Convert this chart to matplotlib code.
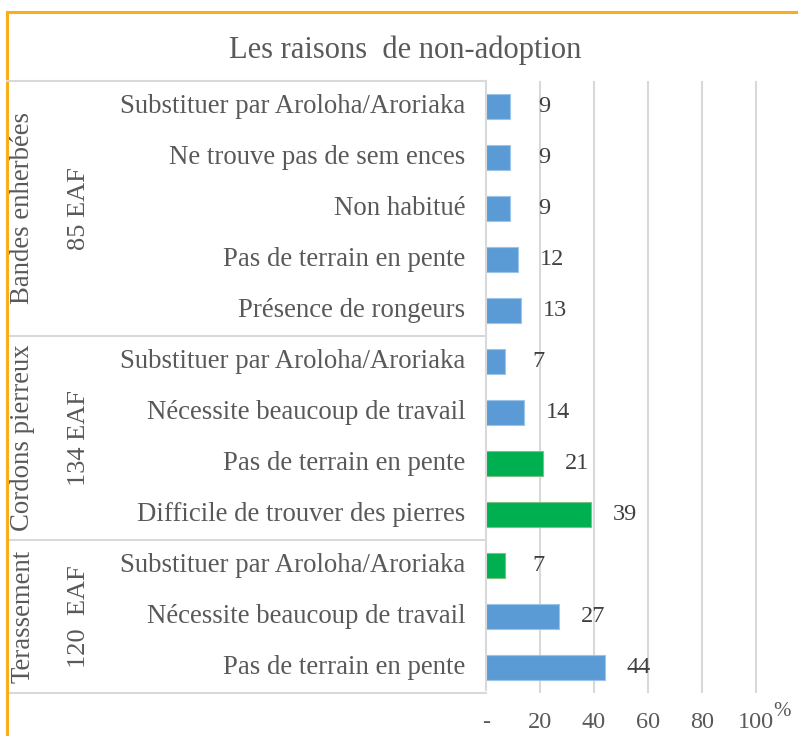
import matplotlib
matplotlib.use('Agg')
import matplotlib.pyplot as plt
from matplotlib.lines import Line2D
from matplotlib.patches import Rectangle
from matplotlib.transforms import blended_transform_factory

plt.rcParams['font.family'] = ['Liberation Serif', 'DejaVu Serif']

# raisons, de haut en bas
raisons = [
    'Substituer par Aroloha/Aroriaka',
    'Ne trouve pas de sem ences',
    'Non habitué',
    'Pas de terrain en pente',
    'Présence de rongeurs',
    'Substituer par Aroloha/Aroriaka',
    'Nécessite beaucoup de travail',
    'Pas de terrain en pente',
    'Difficile de trouver des pierres',
    'Substituer par Aroloha/Aroriaka',
    'Nécessite beaucoup de travail',
    'Pas de terrain en pente',
]
valeurs = [9, 9, 9, 12, 13, 7, 14, 21, 39, 7, 27, 44]
en_vert = [False, False, False, False, False, False, False, True, True, True, False, False]

groupes = ['Bandes enherbées', 'Cordons pierreux', 'Terassement']
effectifs = ['85 EAF', '134 EAF', '120  EAF']
taille_groupes = [5, 4, 3]

ticks = [0, 20, 40, 60, 80, 100]
tick_labels = ['-', '20', '40', '60', '80', '100']

W, H = 798, 736
gris = '#595959'
bleu = '#5B9BD5'
vert = '#00B050'

fig = plt.figure(figsize=(W / 100, H / 100), dpi=100)

def fx(px):
    return px / W

def fy(py):
    return 1 - py / H

# cadre orange
fig.patches.append(Rectangle((fx(7), -0.1), 1.2, fy(12) + 0.1, transform=fig.transFigure,
                             fill=False, edgecolor='#F8AE1D', linewidth=2.2))

ax_left, ax_right = 486, 783
ax_top, ax_bot = 81, 693
ax = fig.add_axes([fx(ax_left), fy(ax_bot), fx(ax_right) - fx(ax_left), fy(ax_top) - fy(ax_bot)])

n = len(raisons)
ypos = list(range(n))
couleurs = [vert if g else bleu for g in en_vert]
bord = ['#7FBF7F' if g else '#9CC3E8' for g in en_vert]
ax.barh(ypos, valeurs, height=0.5, color=couleurs, edgecolor=bord, linewidth=0.8, zorder=3)

for y, v in zip(ypos, valeurs):
    ax.annotate(str(v), (v, y), xytext=(34, 0), textcoords='offset pixels',
                ha='center', va='center', fontsize=17.5, color='#404040', zorder=4)

ax.set_xlim(0, 110)
ax.set_ylim(n - 0.5, -0.5)
ax.set_xticks(ticks)
ax.set_xticklabels(tick_labels, fontsize=17.5, color=gris)
ax.tick_params(axis='x', length=0, pad=14)
ax.set_yticks([])
for s in ax.spines.values():
    s.set_visible(False)
for t in ticks[1:]:
    ax.axvline(t, color='#D9D9D9', linewidth=1.5, zorder=1)

fig.text(fx(782), fy(711), '%', fontsize=15, color=gris, ha='center', va='center')

# libellés des raisons
trans = blended_transform_factory(fig.transFigure, ax.transData)
for y, lab in zip(ypos, raisons):
    ax.text(fx(465), y, lab, transform=trans, ha='right', va='center', fontsize=19.3, color=gris)

# tableau de gauche
lc = '#D9D9D9'
fig.lines.append(Line2D([fx(7), fx(ax_left)], [fy(ax_top), fy(ax_top)], transform=fig.transFigure, color=lc, lw=1.5))
fig.lines.append(Line2D([fx(ax_left), fx(ax_left)], [fy(ax_top), fy(690)], transform=fig.transFigure, color=lc, lw=1.5))
debut = 0
for g, e, k in zip(groupes, effectifs, taille_groupes):
    fin = debut + k
    ax.add_line(Line2D([fx(7), fx(ax_left)], [fin - 0.5, fin - 0.5], transform=trans,
                       color=lc, lw=1.5, clip_on=False))
    milieu = (debut + fin - 1) / 2
    ax.text(fx(23), milieu, g, transform=trans, rotation=90, ha='center', va='center',
            fontsize=19.3, color=gris)
    ax.text(fx(79), milieu, e, transform=trans, rotation=90, ha='center', va='center',
            fontsize=19, color=gris)
    debut = fin

fig.text(fx(405), fy(50), 'Les raisons  de non-adoption', ha='center', va='center',
         fontsize=22, color=gris)

fig.savefig('out.png', dpi=100)
